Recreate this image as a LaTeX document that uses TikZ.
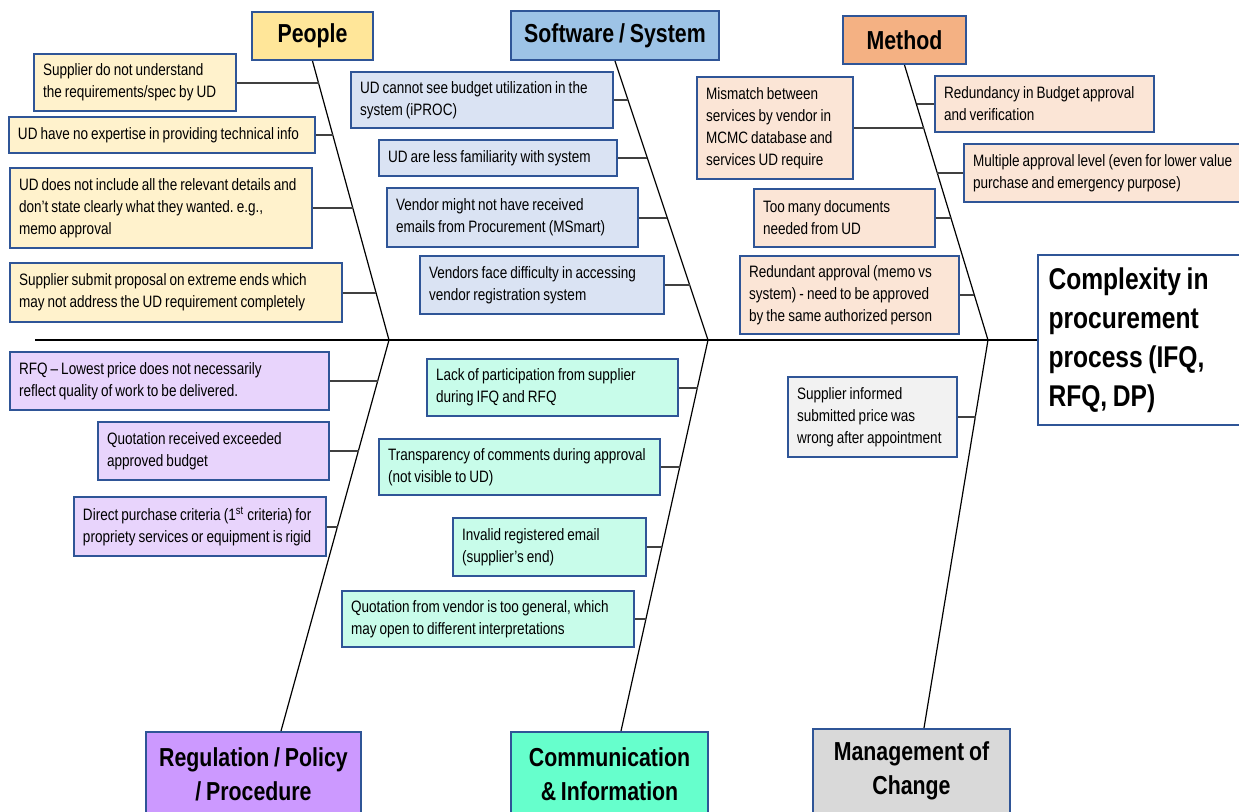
\documentclass[tikz,border=0pt]{standalone}
\usepackage{fontspec}
\setmainfont{Liberation Sans}[FakeStretch=0.82, WordSpace=0.82]
\definecolor{bdr}{HTML}{2F5597}
\definecolor{stemgray}{HTML}{404040}
\definecolor{peoHead}{HTML}{FFE699}
\definecolor{peoFill}{HTML}{FFF2CC}
\definecolor{swHead}{HTML}{9DC3E6}
\definecolor{swFill}{HTML}{DAE3F3}
\definecolor{mtHead}{HTML}{F4B183}
\definecolor{mtFill}{HTML}{FBE5D6}
\definecolor{rgHead}{HTML}{CC99FF}
\definecolor{rgFill}{HTML}{E8D4FC}
\definecolor{cmHead}{HTML}{66FFCC}
\definecolor{cmFill}{HTML}{C8FCEA}
\definecolor{mcHead}{HTML}{D9D9D9}
\definecolor{mcFill}{HTML}{F2F2F2}

\begin{document}
\begin{tikzpicture}[x=0.5pt, y=-0.5pt,
    head/.style={draw=bdr, line width=1pt, align=center, inner sep=0pt,
      font=\fontsize{13}{17}\selectfont\bfseries},
    cause/.style={draw=bdr, line width=1pt, align=flush left, inner xsep=4.5pt, inner ysep=0pt,
      font=\fontsize{8.25}{11}\selectfont\frenchspacing},
    bone/.style={line width=0.6pt},
    stem/.style={draw=stemgray, line width=1pt}]
        \clip (0,0) rectangle (1239,811);

        % effect
        \node[draw=bdr, line width=1pt, fill=white, align=flush left, inner xsep=5.5pt, text width=100pt,
          minimum height=85pt, font=\fontsize{15}{19.5}\selectfont\bfseries] (effect) at (1148.5,340)
          {Complexity in\\procurement\\process (IFQ,\\RFQ, DP)};
        \coordinate (tail) at (35,340);
        \coordinate (jA) at (389,340);
        \coordinate (jB) at (708,340);
        \coordinate (jC) at (988,340);
        \draw[line width=1.1pt] (tail) -- (effect.west);

        % people
        \node[head, fill=peoHead, minimum width=60.5pt, minimum height=24pt] (people) at (312.5,36) {People};
        \node[cause, fill=peoFill, text width=92pt, minimum height=28.5pt] (p1) at (135,82.5)
          {Supplier do not understand\\the requirements/spec by UD};
        \node[cause, fill=peoFill, text width=144pt, minimum height=18pt] (p2) at (162,135)
          {UD have no expertise in providing technical info};
        \node[cause, fill=peoFill, text width=142pt, minimum height=40pt] (p3) at (161,208)
          {UD does not include all the relevant details and\\don't state clearly what they wanted. e.g.,\\memo approval};
        \node[cause, fill=peoFill, text width=157pt, minimum height=29.5pt] (p4) at (176,292.5)
          {Supplier submit proposal on extreme ends which\\may not address the UD requirement completely};
        \coordinate (pa1) at (319,82.5);
        \coordinate (pa2) at (333.3,135);
        \coordinate (pa3) at (353,208);
        \coordinate (pa4) at (376,292.5);
        \draw[bone] (people.south) -- (jA);
        \foreach \i in {1,...,4}
          \draw[stem] (p\i.east) -- (pa\i);

        % software / system
        \node[head, fill=swHead, minimum width=104pt, minimum height=24.5pt] (software) at (615,35.5) {Software / System};
        \node[cause, fill=swFill, text width=122pt, minimum height=28pt] (s1) at (482,100)
          {UD cannot see budget utilization in the\\system (iPROC)};
        \node[cause, fill=swFill, text width=110pt, minimum height=18pt] (s2) at (498,158)
          {UD are less familiarity with system};
        \node[cause, fill=swFill, text width=116.5pt, minimum height=29.5pt] (s3) at (512.5,217.5)
          {Vendor might not have received\\emails from Procurement (MSmart)};
        \node[cause, fill=swFill, text width=113pt, minimum height=29pt] (s4) at (542,285)
          {Vendors face difficulty in accessing\\vendor registration system};
        \coordinate (sa1) at (628.2,100);
        \coordinate (sa2) at (647.4,158);
        \coordinate (sa3) at (667.1,217.5);
        \coordinate (sa4) at (689.5,285);
        \draw[bone] (software.south) -- (jB);
        \foreach \i in {1,...,4}
          \draw[stem] (s\i.east) -- (sa\i);

        % method
        \node[head, fill=mtHead, minimum width=61.5pt, minimum height=24pt] (method) at (904.5,40) {Method};
        \node[cause, fill=mtFill, text width=69pt, minimum height=51pt] (m1) at (775,128)
          {Mismatch between\\services by vendor in\\MCMC database and\\services UD require};
        \node[cause, fill=mtFill, text width=100.5pt, minimum height=28pt] (m2) at (1044.5,104)
          {Redundancy in Budget approval\\and verification};
        \node[cause, fill=mtFill, text width=134pt, minimum height=29pt] (m3) at (1107,173)
          {Multiple approval level (even for lower value\\purchase and emergency purpose)};
        \node[cause, fill=mtFill, text width=81.5pt, minimum height=29pt] (m4) at (844.5,218)
          {Too many documents\\needed from UD};
        \node[cause, fill=mtFill, text width=100.5pt, minimum height=39pt] (m5) at (849.5,295)
          {Redundant approval (memo vs\\system) - need to be approved\\by the same authorized person};
        \coordinate (ma1) at (923.8,128);
        \coordinate (ma2) at (916.6,104);
        \coordinate (ma3) at (937.4,173);
        \coordinate (ma4) at (950.9,218);
        \coordinate (ma5) at (974.1,295);
        \draw[bone] (method.south) -- (jC);
        \draw[stem] (m1.east) -- (ma1);
        \draw[stem] (m2.west) -- (ma2);
        \draw[stem] (m3.west) -- (ma3);
        \draw[stem] (m4.east) -- (ma4);
        \draw[stem] (m5.east) -- (ma5);

        % regulation / policy / procedure
        \node[head, fill=rgHead, minimum width=107.5pt, minimum height=42pt] (regulation) at (253.5,774)
          {Regulation / Policy\\/ Procedure};
        \node[cause, fill=rgFill, text width=150.5pt, minimum height=29pt] (r1) at (169.5,381)
          {RFQ -- Lowest price does not necessarily\\reflect quality of work to be delivered.};
        \node[cause, fill=rgFill, text width=106.5pt, minimum height=29pt] (r2) at (213.5,451)
          {Quotation received exceeded\\approved budget};
        \node[cause, fill=rgFill, text width=117pt, minimum height=29.5pt] (r3) at (200,526.5)
          {Direct purchase criteria (1\textsuperscript{st} criteria) for\\propriety services or equipment is rigid};
        \coordinate (ra1) at (378,381);
        \coordinate (ra2) at (358.6,451);
        \coordinate (ra3) at (337.8,526.5);
        \draw[bone] (jA) -- ([xshift=13.75pt]regulation.north);
        \foreach \i in {1,...,3}
          \draw[stem] (r\i.east) -- (ra\i);

        % communication & information
        \node[head, fill=cmHead, minimum width=98.5pt, minimum height=42pt] (communication) at (609.5,774)
          {Communication\\\& Information};
        \node[cause, fill=cmFill, text width=116.5pt, minimum height=28.5pt] (c1) at (552.5,387.5)
          {Lack of participation from supplier\\during IFQ and RFQ};
        \node[cause, fill=cmFill, text width=131.5pt, minimum height=28pt] (c2) at (519.5,467)
          {Transparency of comments during approval\\(not visible to UD)};
        \node[cause, fill=cmFill, text width=87.5pt, minimum height=29pt] (c3) at (549.5,547)
          {Invalid registered email\\(supplier's end)};
        \node[cause, fill=cmFill, text width=137pt, minimum height=28pt] (c4) at (488,619)
          {Quotation from vendor is too general, which\\may open to different interpretations};
        \coordinate (ca1) at (697.7,387.5);
        \coordinate (ca2) at (680,467);
        \coordinate (ca3) at (662.3,547);
        \coordinate (ca4) at (646.3,619);
        \draw[bone] (jB) -- ([xshift=5.75pt]communication.north);
        \foreach \i in {1,...,4}
          \draw[stem] (c\i.east) -- (ca\i);

        % management of change
        \node[head, fill=mcHead, minimum width=98.5pt, minimum height=42pt] (change) at (911.5,771)
          {Management of\\Change};
        \node[cause, fill=mcFill, text width=75.5pt, minimum height=40pt] (g1) at (872.5,417)
          {Supplier informed\\submitted price was\\wrong after appointment};
        \coordinate (ga1) at (975.5,417);
        \draw[bone] (jC) -- ([xshift=6.25pt]change.north);
        \draw[stem] (g1.east) -- (ga1);
    \end{tikzpicture}
\end{document}
